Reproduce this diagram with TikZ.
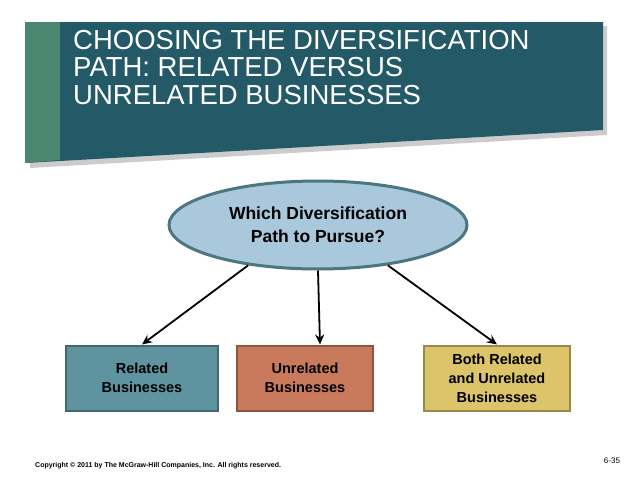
\documentclass[tikz,border=0pt]{standalone}
\usepackage{fontspec}
\setmainfont{Liberation Sans}
\usetikzlibrary{arrows.meta,shapes.geometric}
\begin{document}
\begin{tikzpicture}[x=1pt,y=-1pt,
  box/.style={draw=#1!70!black,line width=2pt,fill=#1,minimum height=65pt,align=center,font=\bfseries\fontsize{14.5}{19}\selectfont},
  arr/.style={-{Stealth[length=10pt,width=9pt]},line width=1.8pt}]
\useasboundingbox (0,0) rectangle (638,479);
\definecolor{teal1}{HTML}{245A68}
\definecolor{green1}{HTML}{4A8670}
\definecolor{c1}{HTML}{5F93A0}
\definecolor{c2}{HTML}{C97A5C}
\definecolor{c3}{HTML}{DCC46A}
\definecolor{ell}{HTML}{A9C8DC}
\fill[gray!40] (30,28) -- (607,26) -- (607,135) -- (30,168) -- cycle;
\fill[teal1] (25,22) -- (603,22) -- (603,130) -- (25,163) -- cycle;
\fill[green1] (25,22) -- (60,22) -- (60,160) -- (25,163) -- cycle;
\node[anchor=north west,text=white,align=left,font=\fontsize{27.5}{27.5}\selectfont,inner sep=0] (title) at (73,30)
 {CHOOSING THE DIVERSIFICATION\\PATH: RELATED VERSUS\\UNRELATED BUSINESSES};
\node[ellipse,draw=c1!80!black,line width=3pt,fill=ell,minimum width=298pt,minimum height=88pt,align=center,font=\bfseries\fontsize{17.5}{23}\selectfont] (q) at (318,225) {Which Diversification\\Path to Pursue?};
\node[box=c1,minimum width=152pt] (r) at (142,378) {Related\\Businesses};
\node[box=c2,minimum width=136pt] (u) at (305,378) {Unrelated\\Businesses};
\node[box=c3,minimum width=146pt] (b) at (497,378) {Both Related\\and Unrelated\\Businesses};
\draw[arr] (q.-150) -- (r.north);
\draw[arr] (q.south) -- ([xshift=15pt]u.north);
\draw[arr] (q.-30) -- (b.north);
\node[anchor=west,font=\bfseries\fontsize{7}{8}\selectfont,inner sep=0] (cp) at (35,466) {Copyright © 2011 by The McGraw-Hill Companies, Inc. All rights reserved.};
\node[font=\fontsize{8}{9}\selectfont,inner sep=0] (pg) at (612,461) {6-35};
\end{tikzpicture}
\end{document}
